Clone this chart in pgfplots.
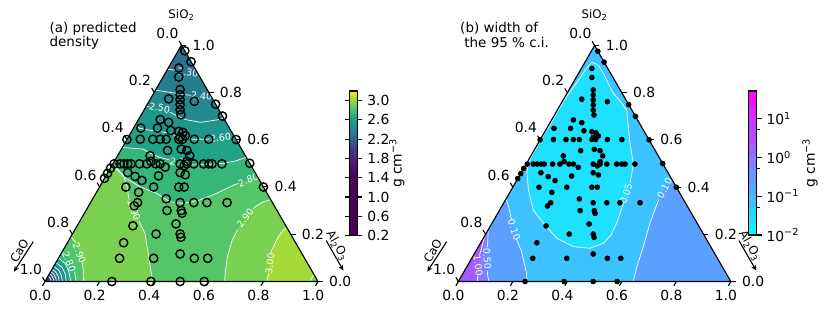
\documentclass[border=0pt]{standalone}
\usepackage{fontspec}
\setmainfont{DejaVu Sans}
\usepackage{pgfplots}
\usepackage{pgfplotstable}
\pgfplotsset{compat=1.18}
\usetikzlibrary{arrows.meta}

\newcommand{\fs}[1]{\fontsize{#1}{#1}\selectfont}

\definecolor{d1}{HTML}{2C6F8E}
\definecolor{d2}{HTML}{297C8E}
\definecolor{d3}{HTML}{24898E}
\definecolor{d4}{HTML}{1F968B}
\definecolor{d5}{HTML}{20A386}
\definecolor{d6}{HTML}{35B779}
\definecolor{d7}{HTML}{54C568}
\definecolor{d8}{HTML}{7AD151}
\definecolor{d9}{HTML}{A5DB36}
\definecolor{d0}{HTML}{3B528B}
\definecolor{dm}{HTML}{472C7A}

\definecolor{w1}{HTML}{20E0FF}
\definecolor{w2}{HTML}{3CC2FF}
\definecolor{w3}{HTML}{5BA0FF}
\definecolor{w4}{HTML}{817EFF}
\definecolor{w5}{HTML}{A35CFF}

\definecolor{b1}{HTML}{0CF3FF}
\definecolor{b2}{HTML}{25DAFF}
\definecolor{b3}{HTML}{3CC2FF}
\definecolor{b4}{HTML}{51AEFF}
\definecolor{b5}{HTML}{6A95FF}
\definecolor{b6}{HTML}{817EFF}
\definecolor{b7}{HTML}{9669FF}
\definecolor{b8}{HTML}{AF50FF}
\definecolor{b9}{HTML}{C639FF}
\definecolor{b10}{HTML}{DB24FF}
\definecolor{b11}{HTML}{F40BFF}

\pgfplotsset{colormap={dens}{rgb255(0pt)=(68,1,84) rgb255(120pt)=(69,5,89) rgb255(140pt)=(71,17,100) rgb255(160pt)=(72,36,117) rgb255(180pt)=(68,58,131) rgb255(200pt)=(49,102,142) rgb255(205pt)=(44,111,142) rgb255(215pt)=(41,124,142) rgb255(225pt)=(36,137,142) rgb255(235pt)=(31,150,139) rgb255(245pt)=(32,163,134) rgb255(255pt)=(53,183,121) rgb255(265pt)=(84,197,104) rgb255(275pt)=(122,209,81) rgb255(285pt)=(165,219,54) rgb255(300pt)=(253,231,37)}}

\tikzset{cl/.style={text=white, font=\fs{6.8}, inner sep=0pt},
         cline/.style={white, line width=0.5pt}}

\pgfplotstableread{
x y
0.490 0.782
0.490 0.749
0.495 0.703
0.495 0.684
0.495 0.666
0.495 0.648
0.495 0.629
0.498 0.611
0.453 0.669
0.547 0.660
0.422 0.593
0.453 0.583
0.412 0.562
0.351 0.562
0.461 0.553
0.490 0.550
0.505 0.546
0.514 0.534
0.495 0.529
0.349 0.521
0.395 0.521
0.422 0.521
0.444 0.521
0.490 0.521
0.504 0.521
0.547 0.521
0.600 0.521
0.449 0.480
0.499 0.485
0.520 0.480
0.385 0.461
0.530 0.461
0.253 0.431
0.275 0.431
0.289 0.431
0.303 0.431
0.315 0.431
0.346 0.431
0.373 0.431
0.406 0.431
0.422 0.431
0.495 0.431
0.520 0.431
0.545 0.431
0.581 0.431
0.600 0.431
0.612 0.431
0.648 0.431
0.388 0.440
0.440 0.419
0.510 0.424
0.520 0.440
0.303 0.399
0.330 0.385
0.355 0.370
0.416 0.387
0.495 0.399
0.514 0.391
0.296 0.346
0.398 0.346
0.490 0.346
0.510 0.346
0.343 0.327
0.444 0.303
0.339 0.289
0.327 0.277
0.495 0.289
0.545 0.289
0.593 0.289
0.667 0.289
0.447 0.260
0.499 0.260
0.502 0.250
0.480 0.211
0.322 0.204
0.407 0.174
0.495 0.174
0.498 0.162
0.288 0.142
0.273 0.085
0.398 0.085
0.495 0.101
0.547 0.085
0.596 0.085
0.245 0.000
0.388 0.000
0.495 0.000
0.583 0.000
0.512 0.845
0.535 0.805
0.625 0.6495
0.650 0.606
0.700 0.520
0.750 0.433
0.800 0.346
0.218 0.378
0.229 0.396
0.240 0.415
0.300 0.520
}\pts

\newcommand{\ternframe}{%
\addplot[black,line width=0.8pt] coordinates {(0,0) (1,0) (0.5,0.8660)} -- cycle;
% bottom ticks
\draw[line width=0.8pt] (axis cs:0,0)--(axis cs:-0.0091,-0.0157);
\draw[line width=0.8pt] (axis cs:0.2,0)--(axis cs:0.1909,-0.0157);
\draw[line width=0.8pt] (axis cs:0.4,0)--(axis cs:0.3909,-0.0157);
\draw[line width=0.8pt] (axis cs:0.6,0)--(axis cs:0.5909,-0.0157);
\draw[line width=0.8pt] (axis cs:0.8,0)--(axis cs:0.7909,-0.0157);
\draw[line width=0.8pt] (axis cs:1,0)--(axis cs:0.9909,-0.0157);
\node[font=\fs{10}] at (axis cs:-0.018,-0.052) {0.0};
\node[font=\fs{10}] at (axis cs:0.182,-0.052) {0.2};
\node[font=\fs{10}] at (axis cs:0.382,-0.052) {0.4};
\node[font=\fs{10}] at (axis cs:0.582,-0.052) {0.6};
\node[font=\fs{10}] at (axis cs:0.782,-0.052) {0.8};
\node[font=\fs{10}] at (axis cs:0.982,-0.052) {1.0};
% right ticks (SiO2)
\draw[line width=0.8pt] (axis cs:1,0)--(axis cs:1.018,0);
\draw[line width=0.8pt] (axis cs:0.9,0.1732)--(axis cs:0.918,0.1732);
\draw[line width=0.8pt] (axis cs:0.8,0.3464)--(axis cs:0.818,0.3464);
\draw[line width=0.8pt] (axis cs:0.7,0.5196)--(axis cs:0.718,0.5196);
\draw[line width=0.8pt] (axis cs:0.6,0.6928)--(axis cs:0.618,0.6928);
\draw[line width=0.8pt] (axis cs:0.5,0.8660)--(axis cs:0.518,0.8660);
\node[font=\fs{10},anchor=west,inner sep=0pt] at (axis cs:1.040,0) {0.0};
\node[font=\fs{10},anchor=west,inner sep=0pt] at (axis cs:0.940,0.1732) {0.2};
\node[font=\fs{10},anchor=west,inner sep=0pt] at (axis cs:0.840,0.3464) {0.4};
\node[font=\fs{10},anchor=west,inner sep=0pt] at (axis cs:0.740,0.5196) {0.6};
\node[font=\fs{10},anchor=west,inner sep=0pt] at (axis cs:0.640,0.6928) {0.8};
\node[font=\fs{10},anchor=west,inner sep=0pt] at (axis cs:0.540,0.8660) {1.0};
% left ticks (CaO)
\draw[line width=0.8pt] (axis cs:0.5,0.8660)--(axis cs:0.4909,0.8817);
\draw[line width=0.8pt] (axis cs:0.4,0.6928)--(axis cs:0.3909,0.7085);
\draw[line width=0.8pt] (axis cs:0.3,0.5196)--(axis cs:0.2909,0.5353);
\draw[line width=0.8pt] (axis cs:0.2,0.3464)--(axis cs:0.1909,0.3621);
\draw[line width=0.8pt] (axis cs:0.1,0.1732)--(axis cs:0.0909,0.1889);
\draw[line width=0.8pt] (axis cs:0,0)--(axis cs:-0.0091,0.0157);
\node[font=\fs{10}] at (axis cs:0.448,0.910) {0.0};
\node[font=\fs{10}] at (axis cs:0.348,0.737) {0.2};
\node[font=\fs{10}] at (axis cs:0.248,0.564) {0.4};
\node[font=\fs{10}] at (axis cs:0.148,0.390) {0.6};
\node[font=\fs{10}] at (axis cs:0.048,0.217) {0.8};
\node[font=\fs{10}] at (axis cs:-0.052,0.044) {1.0};
% axis labels
\node[font=\fs{8.5}] at (axis cs:0.5,0.977) {SiO\textsubscript{2}};
\node[font=\fs{8.5},rotate=60] at (axis cs:-0.094,0.112) {CaO};
\draw[line width=0.8pt,-{Stealth[length=4pt,width=3.5pt]}] (axis cs:-0.043,0.146)--(axis cs:-0.114,0.036);
\node[font=\fs{8.5},rotate=-60] at (axis cs:1.070,0.130) {Al\textsubscript{2}O\textsubscript{3}};
\draw[line width=0.8pt,-{Stealth[length=4pt,width=3.5pt]}] (axis cs:1.030,0.150)--(axis cs:1.093,0.040);
}

\begin{document}
\begin{tikzpicture}
\path[use as bounding box] (0,0) rectangle (597.6pt,225.36pt);

% ================= (a) predicted density =================
\begin{axis}[
  at={(32.4pt,22.68pt)}, anchor=south west,
  width=196.56pt, height=170.23pt, scale only axis,
  xmin=0, xmax=1, ymin=0, ymax=0.8660,
  axis lines=none, clip=false,
  colormap name=dens, point meta min=0.2, point meta max=3.2,
  colorbar,
  colorbar style={
    at={(parent axis.north east)}, anchor=north west,
    xshift=14.2pt, yshift=-33.1pt,
    width=5.76pt, height=104.0pt, scale only axis,
    axis lines=box,
    axis line style={line width=0.8pt},
    ytick={0.2,0.6,1.0,1.4,1.8,2.2,2.6,3.0},
    yticklabels={0.2,0.6,1.0,1.4,1.8,2.2,2.6,3.0},
    yticklabel style={font=\fs{10}},
    tick align=outside, major tick length=3.5pt,
    every tick/.style={black,line width=0.8pt},
    ylabel={g cm\textsuperscript{−3}},
    ylabel style={font=\fs{10}},
    ylabel shift=-7pt,
  },
]
% filled bands
\addplot[fill=d1, draw=none] coordinates {(0,0) (1,0) (0.5,0.8660)};
\addplot[fill=d2, draw=none] coordinates {(0.449,0.778) (0.47,0.775) (0.50,0.768) (0.525,0.762) (0.55,0.755) (0.567,0.750) (1,0) (0,0)};
\addplot[fill=d3, draw=none] coordinates {(0.405,0.701) (0.45,0.694) (0.50,0.686) (0.545,0.681) (0.578,0.678) (0.610,0.676) (1,0) (0,0)};
\addplot[fill=d4, draw=none] coordinates {(0.370,0.641) (0.40,0.638) (0.43,0.632) (0.455,0.622) (0.49,0.603) (0.52,0.592) (0.57,0.583) (0.63,0.592) (0.655,0.598) (1,0) (0,0)};
\addplot[fill=d5, draw=none] coordinates {(0.330,0.571) (0.348,0.561) (0.39,0.553) (0.427,0.549) (0.46,0.540) (0.495,0.530) (0.543,0.521) (0.592,0.521) (0.641,0.528) (0.690,0.537) (1,0) (0,0)};
\addplot[fill=d6, draw=none] coordinates {(0.283,0.491) (0.32,0.488) (0.360,0.485) (0.385,0.470) (0.42,0.455) (0.458,0.445) (0.495,0.433) (0.543,0.427) (0.60,0.429) (0.653,0.433) (0.70,0.442) (0.737,0.455) (1,0) (0,0)};
\addplot[fill=d7, draw=none] coordinates {(0.248,0.430) (0.265,0.415) (0.287,0.384) (0.348,0.347) (0.409,0.323) (0.458,0.292) (0.507,0.286) (0.568,0.299) (0.629,0.323) (0.690,0.353) (0.745,0.371) (0.778,0.384) (1,0) (0,0)};
\addplot[fill=d8, draw=none] coordinates {(0.248,0.430) (0.262,0.41) (0.287,0.390) (0.30,0.35) (0.311,0.299) (0.335,0.24) (0.366,0.177) (0.378,0.103) (0.391,0.018) (0.393,0) (0,0)};
\addplot[fill=d8, draw=none] coordinates {(0.827,0.300) (0.80,0.292) (0.775,0.278) (0.763,0.267) (0.74,0.248) (0.71,0.20) (0.685,0.15) (0.668,0.09) (0.66,0.03) (0.658,0) (1,0)};
\addplot[fill=d9, draw=none] coordinates {(0.812,0) (0.818,0.042) (0.824,0.085) (0.836,0.127) (0.855,0.164) (0.873,0.189) (0.887,0.195) (0.985,0.026) (0.975,0.008) (0.97,0)};
% CaO corner
\addplot[fill=d7, draw=none] coordinates {(0,0) (0.095,0.164) (0.118,0.127) (0.134,0.079) (0.140,0.042) (0.141,0)};
\addplot[fill=d6, draw=none] coordinates {(0,0) (0.063,0.109) (0.092,0.079) (0.106,0.042) (0.114,0)};
\addplot[fill=d5, draw=none] coordinates {(0,0) (0.05,0.0866) (0.075,0.065) (0.088,0.035) (0.094,0)};
\addplot[fill=d4, draw=none] coordinates {(0,0) (0.04,0.0693) (0.062,0.052) (0.074,0.028) (0.078,0)};
\addplot[fill=d3, draw=none] coordinates {(0,0) (0.032,0.0554) (0.05,0.042) (0.06,0.022) (0.064,0)};
\addplot[fill=d2, draw=none] coordinates {(0,0) (0.026,0.045) (0.04,0.034) (0.049,0.017) (0.052,0)};
\addplot[fill=d1, draw=none] coordinates {(0,0) (0.021,0.0364) (0.032,0.027) (0.039,0.014) (0.042,0)};
\addplot[fill=d0, draw=none] coordinates {(0,0) (0.016,0.0277) (0.025,0.021) (0.03,0.011) (0.033,0)};
\addplot[fill=dm, draw=none] coordinates {(0,0) (0.011,0.019) (0.018,0.014) (0.021,0.007) (0.023,0)};
% contour lines
\addplot[cline] coordinates {(0.449,0.778) (0.47,0.775) (0.482,0.773)};
\addplot[cline] coordinates {(0.405,0.701) (0.45,0.694) (0.50,0.686) (0.535,0.682)};
\addplot[cline] coordinates {(0.370,0.641) (0.383,0.640)};
\addplot[cline] coordinates {(0.458,0.620) (0.49,0.603) (0.52,0.592) (0.57,0.583) (0.63,0.592) (0.655,0.598)};
\addplot[cline] coordinates {(0.330,0.571) (0.348,0.561) (0.39,0.553) (0.427,0.549) (0.46,0.540) (0.495,0.530) (0.543,0.521) (0.592,0.521) (0.602,0.522)};
\addplot[cline] coordinates {(0.283,0.491) (0.32,0.488) (0.360,0.485) (0.385,0.470) (0.42,0.455) (0.458,0.445)};
\addplot[cline] coordinates {(0.533,0.428) (0.543,0.427) (0.60,0.429) (0.653,0.433) (0.70,0.442) (0.737,0.455)};
\addplot[cline] coordinates {(0.248,0.430) (0.265,0.415) (0.287,0.384) (0.348,0.347) (0.409,0.323) (0.458,0.292) (0.507,0.286) (0.568,0.299) (0.629,0.323) (0.690,0.353) (0.708,0.359)};
\addplot[cline] coordinates {(0.248,0.430) (0.262,0.41) (0.287,0.390) (0.30,0.35) (0.308,0.300)};
\addplot[cline] coordinates {(0.344,0.222) (0.366,0.177) (0.378,0.103) (0.391,0.018) (0.393,0)};
\addplot[cline] coordinates {(0.827,0.300) (0.80,0.292) (0.775,0.278) (0.763,0.267)};
\addplot[cline] coordinates {(0.705,0.19) (0.685,0.15) (0.668,0.09) (0.66,0.03) (0.658,0)};
\addplot[cline] coordinates {(0.887,0.195) (0.873,0.189) (0.855,0.164) (0.836,0.127) (0.827,0.105)};
\addplot[cline] coordinates {(0.820,0.030) (0.812,0)};
\addplot[cline] coordinates {(0.985,0.026) (0.975,0.008) (0.97,0)};
\addplot[cline] coordinates {(0.095,0.164) (0.114,0.140)};
\addplot[cline] coordinates {(0.137,0.068) (0.140,0.042) (0.141,0)};
\addplot[cline] coordinates {(0.063,0.109) (0.068,0.104)};
\addplot[cline] coordinates {(0.108,0.036) (0.114,0)};
\addplot[cline] coordinates {(0.05,0.0866) (0.075,0.065) (0.088,0.035) (0.094,0)};
\addplot[cline] coordinates {(0.04,0.0693) (0.062,0.052) (0.074,0.028) (0.078,0)};
\addplot[cline] coordinates {(0.032,0.0554) (0.05,0.042) (0.06,0.022) (0.064,0)};
\addplot[cline] coordinates {(0.026,0.045) (0.04,0.034) (0.049,0.017) (0.052,0)};
\addplot[cline] coordinates {(0.021,0.0364) (0.032,0.027) (0.039,0.014) (0.042,0)};
\addplot[cline] coordinates {(0.016,0.0277) (0.025,0.021) (0.03,0.011) (0.033,0)};
\addplot[cline] coordinates {(0.011,0.019) (0.018,0.014) (0.021,0.007) (0.023,0)};
% contour labels
\node[cl,rotate=-8] at (axis cs:0.523,0.766) {2.30};
\node[cl,rotate=-5] at (axis cs:0.574,0.679) {2.40};
\node[cl,rotate=-12] at (axis cs:0.420,0.636) {2.50};
\node[cl,rotate=7] at (axis cs:0.643,0.527) {2.60};
\node[cl,rotate=-10] at (axis cs:0.496,0.436) {2.70};
\node[cl,rotate=20] at (axis cs:0.745,0.371) {2.80};
\node[cl,rotate=-70] at (axis cs:0.326,0.260) {2.90};
\node[cl,rotate=52] at (axis cs:0.733,0.232) {2.90};
\node[cl,rotate=83] at (axis cs:0.824,0.067) {3.00};
\node[cl,rotate=-68] at (axis cs:0.126,0.104) {2.90};
\node[cl,rotate=-68] at (axis cs:0.088,0.072) {2.80};
\ternframe
\node[font=\fs{9.7},anchor=north west,align=left,inner sep=0pt] at (axis cs:0.016,0.952) {(a) predicted\\[0.8pt]density};
\addplot[only marks, mark=o, mark size=3pt, mark options={line width=1pt, black}] table {\pts};
\end{axis}

% ================= (b) width of 95% c.i. =================
\begin{axis}[
  at={(330.0pt,22.68pt)}, anchor=south west,
  width=196.2pt, height=169.9pt, scale only axis,
  xmin=0, xmax=1, ymin=0, ymax=0.8660,
  axis lines=none, clip=false,
]
\addplot[fill=w3, draw=none] coordinates {(0,0) (1,0) (0.5,0.8660)};
\addplot[fill=w2, draw=none] coordinates {(0.175,0.303) (0.5,0.8660) (0.778,0.385) (0.752,0.335) (0.735,0.300) (0.703,0.214) (0.679,0.128) (0.655,0.054) (0.642,0) (0.252,0) (0.25,0.03) (0.239,0.079) (0.232,0.11) (0.216,0.155) (0.205,0.19) (0.192,0.238) (0.186,0.27)};
\addplot[fill=w1, draw=none] coordinates {(0.606,0.287) (0.581,0.214) (0.56,0.17) (0.532,0.140) (0.483,0.122) (0.422,0.128) (0.361,0.159) (0.318,0.207) (0.275,0.262) (0.257,0.336) (0.252,0.40) (0.258,0.44) (0.28,0.48) (0.30,0.515) (0.32,0.55) (0.345,0.59) (0.37,0.635) (0.395,0.675) (0.42,0.71) (0.445,0.745) (0.468,0.78) (0.490,0.805) (0.514,0.794) (0.535,0.76) (0.550,0.727) (0.569,0.691) (0.595,0.66) (0.618,0.629) (0.624,0.568) (0.630,0.507) (0.642,0.434) (0.636,0.39) (0.630,0.360)};
\addplot[fill=w4, draw=none] coordinates {(0,0) (0.109,0.189) (0.108,0.14) (0.105,0.083) (0.106,0.04) (0.112,0)};
\addplot[fill=w5, draw=none] coordinates {(0,0) (0.096,0.166) (0.086,0.125) (0.078,0.098) (0.072,0.06) (0.071,0.022) (0.070,0)};
% contour lines
\addplot[cline] coordinates {(0.606,0.287) (0.581,0.214) (0.56,0.17) (0.532,0.140) (0.483,0.122) (0.422,0.128) (0.361,0.159) (0.318,0.207) (0.275,0.262) (0.257,0.336) (0.252,0.40) (0.258,0.44) (0.28,0.48) (0.30,0.515) (0.32,0.55) (0.345,0.59) (0.37,0.635) (0.395,0.675) (0.42,0.71) (0.445,0.745) (0.468,0.78) (0.490,0.805) (0.514,0.794) (0.535,0.76) (0.550,0.727) (0.569,0.691) (0.595,0.66) (0.618,0.629) (0.624,0.568) (0.630,0.507) (0.642,0.434) (0.636,0.39) (0.630,0.360)};
\addplot[cline] coordinates {(0.175,0.303) (0.186,0.27) (0.192,0.238) (0.197,0.225)};
\addplot[cline] coordinates {(0.212,0.158) (0.232,0.11) (0.239,0.079) (0.25,0.03) (0.252,0)};
\addplot[cline] coordinates {(0.735,0.300) (0.703,0.214) (0.679,0.128) (0.655,0.054) (0.642,0)};
\addplot[cline] coordinates {(0.096,0.166) (0.086,0.125) (0.078,0.098)};
\addplot[cline] coordinates {(0.071,0.022) (0.070,0)};
\addplot[cline] coordinates {(0.109,0.189) (0.108,0.14) (0.106,0.125)};
\addplot[cline] coordinates {(0.106,0.04) (0.108,0.02) (0.112,0)};
\node[cl,rotate=72] at (axis cs:0.616,0.322) {0.05};
\node[cl,rotate=-72] at (axis cs:0.205,0.19) {0.10};
\node[cl,rotate=62] at (axis cs:0.757,0.342) {0.10};
\node[cl,rotate=-82] at (axis cs:0.073,0.060) {1.00};
\node[cl,rotate=-86] at (axis cs:0.106,0.083) {0.50};
\ternframe
\node[font=\fs{9.7},anchor=north west,align=left,inner sep=0pt] at (axis cs:0.006,0.952) {(b) width of\\[0.8pt]\hspace*{3pt}the 95 \% c.i.};
\addplot[only marks, mark=*, mark size=1.8pt, mark options={black}] table {\pts};
\end{axis}

% ================= colorbar (b) =================
\begin{axis}[
  at={(538.8pt,56.16pt)}, anchor=south west,
  width=6.05pt, height=103.68pt, scale only axis,
  xmin=0, xmax=1, ymode=log, ymin=0.01, ymax=50,
  xtick=\empty,
  ytick={0.01,0.1,1,10},
  yticklabels={10\textsuperscript{−2},10\textsuperscript{−1},10\textsuperscript{0},10\textsuperscript{1}},
  yminorticks=false,
  ytick pos=right, yticklabel pos=right,
  tick align=outside, major tick length=3.5pt,
  extra y ticks={0.05,0.5,5}, extra y tick labels={},
  extra y tick style={major tick length=2pt, ytick pos=right},
  every tick/.style={black,line width=0.8pt},
  yticklabel style={font=\fs{10}},
  ylabel={g cm\textsuperscript{−3}}, ylabel style={font=\fs{10}},
  ylabel shift=-10pt,
  axis line style={line width=0.8pt},
  axis on top,
]
\addplot[fill=b1, draw=none] coordinates {(0,0.01) (1,0.01) (1,0.02) (0,0.02)};
\addplot[fill=b2, draw=none] coordinates {(0,0.02) (1,0.02) (1,0.05) (0,0.05)};
\addplot[fill=b3, draw=none] coordinates {(0,0.05) (1,0.05) (1,0.1) (0,0.1)};
\addplot[fill=b4, draw=none] coordinates {(0,0.1) (1,0.1) (1,0.2) (0,0.2)};
\addplot[fill=b5, draw=none] coordinates {(0,0.2) (1,0.2) (1,0.5) (0,0.5)};
\addplot[fill=b6, draw=none] coordinates {(0,0.5) (1,0.5) (1,1) (0,1)};
\addplot[fill=b7, draw=none] coordinates {(0,1) (1,1) (1,2) (0,2)};
\addplot[fill=b8, draw=none] coordinates {(0,2) (1,2) (1,5) (0,5)};
\addplot[fill=b9, draw=none] coordinates {(0,5) (1,5) (1,10) (0,10)};
\addplot[fill=b10, draw=none] coordinates {(0,10) (1,10) (1,20) (0,20)};
\addplot[fill=b11, draw=none] coordinates {(0,20) (1,20) (1,50) (0,50)};
\end{axis}
\end{tikzpicture}
\end{document}
